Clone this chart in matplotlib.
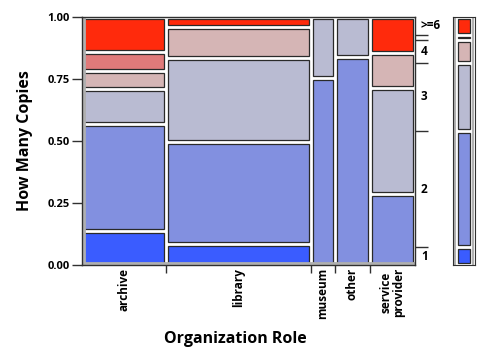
import numpy as np
import matplotlib.pyplot as plt
from matplotlib.patches import Rectangle

plt.rcParams['font.family'] = ['Open Sans', 'DejaVu Sans']

roles = ['archive', 'library', 'museum', 'other', 'service\nprovider']
role_share = [0.252, 0.435, 0.072, 0.105, 0.136]
copies = ['1', '2', '3', '4', '5', '>=6']
# share of each copies level inside each role (columns = copies)
cell_share = [
    [0.137, 0.432, 0.141, 0.073, 0.077, 0.140],
    [0.085, 0.411, 0.339, 0.125, 0.000, 0.040],
    [0.000, 0.754, 0.246, 0.000, 0.000, 0.000],
    [0.000, 0.839, 0.161, 0.000, 0.000, 0.000],
    [0.000, 0.286, 0.428, 0.141, 0.000, 0.145],
]
colors = ['#3a5cff', '#8290e0', '#b9bbd2', '#d5b5b5', '#e07a7a', '#ff2a0c']

widths = np.array(role_share) / sum(role_share)
cells = np.array(cell_share)
cells = cells / cells.sum(axis=1, keepdims=True)
marginal = (cells * widths[:, None]).sum(axis=0)

fig = plt.figure(figsize=(4.8, 3.56), dpi=100)
ax = fig.add_axes([82 / 480, 91 / 356, 333 / 480, 248 / 356])
gx = 2.0 / 333
gy = 2.0 / 248

x0 = 0
for i, w in enumerate(widths):
    y0 = 0
    for j, h in enumerate(cells[i]):
        if h > 0:
            ax.add_patch(Rectangle((x0 + gx, y0 + gy), w - 2 * gx, h - 2 * gy,
                                   facecolor=colors[j], edgecolor='#2a2a2a', lw=0.9))
        y0 += h
    x0 += w

ax.set_xlim(0, 1)
ax.set_ylim(0, 1)
for s in ax.spines.values():
    s.set_color('#303030')
    s.set_linewidth(1.0)
ax.plot([2.0 / 333, 2.0 / 333], [0, 1], color='#b0b0b0', lw=2.0, transform=ax.transAxes)
ax.plot([0, 1], [2.0 / 248, 2.0 / 248], color='#b0b0b0', lw=2.0, transform=ax.transAxes)

ax.set_yticks([0, 0.25, 0.5, 0.75, 1.0])
ax.set_yticklabels(['0.00', '0.25', '0.50', '0.75', '1.00'])
ax.tick_params(axis='y', length=7, width=1, color='#303030', labelsize=8, pad=2)
for t in ax.get_yticklabels():
    t.set_fontweight('bold')

bounds = np.cumsum(widths)[:-1]
centers = np.cumsum(widths) - widths / 2
ax.set_xticks(centers)
ax.set_xticklabels(roles, rotation=90, fontsize=8.5, fontweight='bold',
                   va='top', linespacing=0.9)
ax.tick_params(axis='x', length=0, pad=2)
ax.set_xticks(bounds, minor=True)
ax.tick_params(axis='x', which='minor', length=6, width=1, color='#303030')

ax.set_ylabel('How Many Copies', fontsize=11.5, fontweight='bold', labelpad=10)
ax.set_xlabel('Organization Role', fontsize=11.5, fontweight='bold')
ax.xaxis.set_label_coords(0.46, -0.265)

# right axis with marginal boundaries
cum = np.cumsum(marginal)
ax2 = ax.twinx()
ax2.set_ylim(0, 1)
ax2.set_yticks(cum[:-1])
ax2.set_yticklabels([])
ax2.tick_params(axis='y', length=9, width=1, color='#303030')
for s in ax2.spines.values():
    s.set_visible(False)
starts = np.concatenate([[0], cum[:-1]])
for lab, s0, m in zip(copies, starts, marginal):
    if m > 0.03:
        ax.text(1.018, s0 + m / 2, lab, transform=ax.transAxes, fontsize=8.5,
                fontweight='bold', va='center', ha='left')

# marginal bar
axm = fig.add_axes([453 / 480, 91 / 356, 22 / 480, 248 / 356])
y0 = 0
for j, h in enumerate(marginal):
    if h > 0:
        axm.add_patch(Rectangle((0.22, y0 + gy), 0.56, h - 2 * gy,
                                facecolor=colors[j], edgecolor='#2a2a2a', lw=0.9))
    y0 += h
axm.set_xlim(0, 1)
axm.set_ylim(0, 1)
axm.set_xticks([])
axm.set_yticks([])
for s in axm.spines.values():
    s.set_color('#303030')
axm.plot([0.1, 0.1], [0, 1], color='#b0b0b0', lw=1.5, transform=axm.transAxes)
axm.plot([0.9, 0.9], [0, 1], color='#b0b0b0', lw=1.5, transform=axm.transAxes)

fig.savefig('out.png', dpi=100)
